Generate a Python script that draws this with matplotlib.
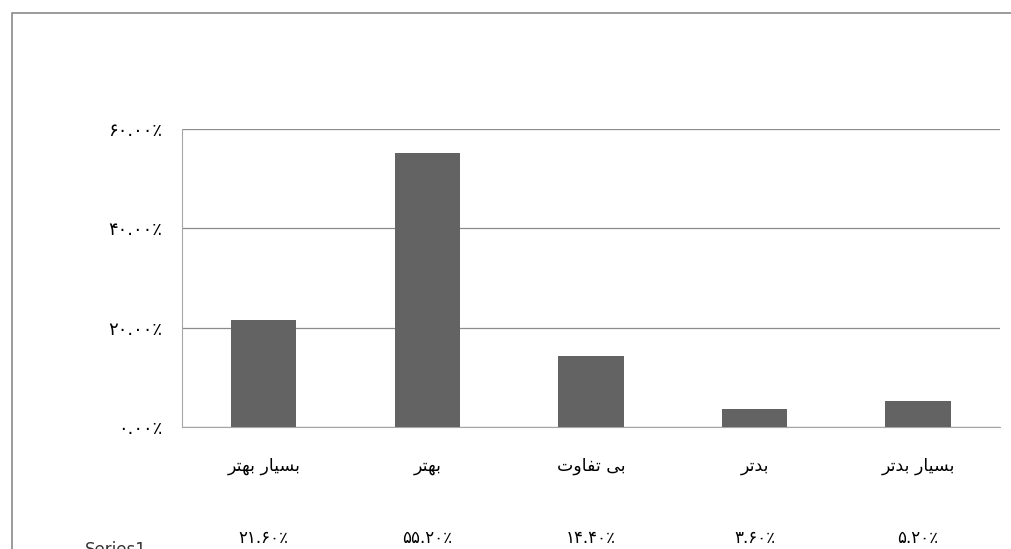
import matplotlib.pyplot as plt
from matplotlib.patches import Rectangle

# --- data ---
categories = ['بسیار بهتر', 'بهتر', 'بی تفاوت', 'بدتر', 'بسیار بدتر']
values = [21.6, 55.2, 14.4, 3.6, 5.2]
y_ticks = [0, 20, 40, 60]

# Arabic presentation forms: (isolated, final, initial, medial)
FORMS = {
    'ب': ('\uFE8F', '\uFE90', '\uFE91', '\uFE92'),
    'س': ('\uFEB1', '\uFEB2', '\uFEB3', '\uFEB4'),
    'ی': ('\uFBFC', '\uFBFD', '\uFBFE', '\uFBFF'),
    'ا': ('\uFE8D', '\uFE8E', None, None),
    'ر': ('\uFEAD', '\uFEAE', None, None),
    'ه': ('\uFEE9', '\uFEEA', '\uFEEB', '\uFEEC'),
    'ت': ('\uFE95', '\uFE96', '\uFE97', '\uFE98'),
    'ف': ('\uFED1', '\uFED2', '\uFED3', '\uFED4'),
    'و': ('\uFEED', '\uFEEE', None, None),
    'د': ('\uFEA9', '\uFEAA', None, None),
}


def shape(text):
    """Very small Persian shaper: joins letters and reverses for display."""
    out = []
    for i, ch in enumerate(text):
        if ch not in FORMS:
            out.append(ch)
            continue
        prev = text[i - 1] if i > 0 else ''
        nxt = text[i + 1] if i + 1 < len(text) else ''
        join_prev = prev in FORMS and FORMS[prev][2] is not None
        join_next = nxt in FORMS and FORMS[ch][2] is not None
        iso, fin, ini, med = FORMS[ch]
        if join_prev and join_next:
            out.append(med)
        elif join_prev:
            out.append(fin)
        elif join_next:
            out.append(ini)
        else:
            out.append(iso)
    return ''.join(reversed(out))


def fa_num(s):
    return s.translate(str.maketrans('0123456789%', '۰۱۲۳۴۵۶۷۸۹٪'))


plt.rcParams['font.family'] = ['DejaVu Sans']

fig = plt.figure(figsize=(10.11, 5.49), dpi=100)
ax = fig.add_axes([0.180, 0.222, 0.809, 0.543])

x = list(range(len(categories)))
ax.bar(x, values, width=0.4, color='#636363', zorder=3)

ax.set_xlim(-0.5, len(categories) - 0.5)
ax.set_ylim(0, 60)
ax.set_yticks(y_ticks)
ax.set_yticklabels([fa_num('%.2f%%' % v) for v in y_ticks], fontsize=13)
ax.yaxis.grid(True, color='#8c8c8c', linewidth=0.9, zorder=0)
ax.tick_params(axis='y', length=0, pad=14)
ax.set_xticks([])

for side in ['top', 'right']:
    ax.spines[side].set_visible(False)
for side in ['left', 'bottom']:
    ax.spines[side].set_color('#a6a6a6')

# category labels and data-table values below the axis
for i, (cat, val) in enumerate(zip(categories, values)):
    ax.annotate(shape(cat), (i, 0), xytext=(0, -28), textcoords='offset points',
                ha='center', va='center', fontsize=12.5, annotation_clip=False)
    ax.annotate(fa_num('%.2f%%' % val), (i, 0), xytext=(0, -80),
                textcoords='offset points', ha='center', va='center',
                fontsize=12, annotation_clip=False)

# cut-off legend key of the data table
fig.text(85 / 1011, 1 - 541 / 549, 'Series1', fontsize=12, va='top',
         color='#333333')

# outer chart frame (only top and left edges visible)
fig.add_artist(Rectangle((12 / 1011, -0.2), 1.2, 1.2 - 13 / 549,
                         transform=fig.transFigure, fill=False,
                         edgecolor='#8a8a8a', linewidth=1.2))

fig.savefig('out.png', dpi=100)
